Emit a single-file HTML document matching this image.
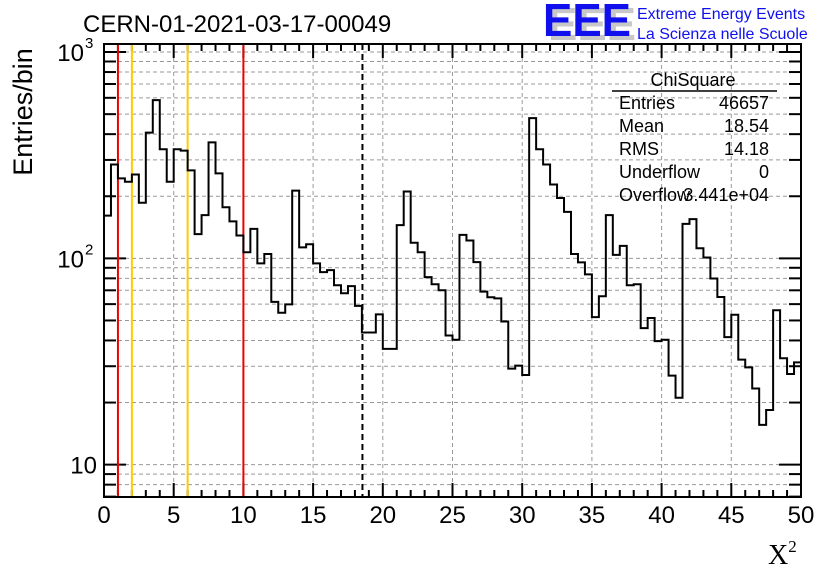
<!DOCTYPE html>
<html><head><meta charset="utf-8"><style>
html,body{margin:0;padding:0;background:#fff;}
svg{display:block;font-family:"Liberation Sans",sans-serif;}
</style></head><body>
<svg id="chart" width="836" height="572" viewBox="0 0 836 572">
<rect width="836" height="572" fill="#fff"/>
<g id="grid"></g>
<g id="ticks"></g>
<g id="vlines"></g>
<path id="hist" fill="none" stroke="#000" stroke-width="2"/>
<rect x="104" y="44" width="697" height="453" fill="none" stroke="#000" stroke-width="2"/>
<text x="83" y="32" font-size="24">CERN-01-2021-03-17-00049</text>
<g>
<text x="548" y="40" font-size="46" font-weight="bold" fill="#c8c8c8" textLength="88" lengthAdjust="spacingAndGlyphs">EEE</text>
<text x="543" y="36" font-size="46" font-weight="bold" fill="#1010ee" textLength="88" lengthAdjust="spacingAndGlyphs">EEE</text>
<text x="637" y="19" font-size="16" fill="#1010ee">Extreme Energy Events</text>
<text x="637" y="39" font-size="16" fill="#1010ee">La Scienza nelle Scuole</text>
</g>
<text transform="translate(32,112) rotate(-90)" font-size="27" text-anchor="middle">Entries/bin</text>
<text x="768" y="564" font-size="28" font-family="Liberation Serif,serif">X<tspan font-size="17" dy="-12">2</tspan></text>
<g font-size="18">
<text x="693" y="86" text-anchor="middle">ChiSquare</text>
<line x1="612" y1="91" x2="777" y2="91" stroke="#000" stroke-width="1.5"/>
<text x="619" y="109">Entries</text><text x="769" y="109" text-anchor="end">46657</text>
<text x="619" y="132">Mean</text><text x="769" y="132" text-anchor="end">18.54</text>
<text x="619" y="155">RMS</text><text x="769" y="155" text-anchor="end">14.18</text>
<text x="619" y="178">Underflow</text><text x="769" y="178" text-anchor="end">0</text>
<text x="619" y="201">Overflow</text><text x="769" y="201" text-anchor="end">3.441e+04</text>
</g>
</svg>
<script>
const counts = [161,285,244,235,255,186,407,585,338,235,338,333,267,131,162,365,258,177,151,129,107,139,94.6,105,61.5,54.5,59.8,213,113,117,94.6,85.7,87.7,74.1,67.7,73.3,58.8,43.7,43.7,53.5,36.4,36.4,145,211,119,107,81.1,74.9,70.0,42.3,40.3,130,122,95.9,69.0,64.8,64.0,49.4,29.2,30.2,27.2,478,338,285,228,196,168,105,95.6,83.6,51.9,65.5,162,104,115,74.1,74.9,45.9,51.4,39.7,40.3,27.0,21.1,147,155,112,101,79.9,65.0,41.5,53.3,32.3,29.6,23.4,15.6,18.4,56.0,32.8,27.5,31.3];
const xTicks = [0,5,10,15,20,25,30,35,40,45,50];
const yDecades = [10,100,1000];
const redLines = [1,10];
const yellowLines = [2,6];
const meanLine = [18.54];
const X0=104,X1=801,Y0=497,Y1=44,XMIN=0,XMAX=50,YMIN=6.97,YMAX=1094;
const NS='http://www.w3.org/2000/svg';
function sx(v){return X0+(v-XMIN)/(XMAX-XMIN)*(X1-X0);}
function sy(v){return Y0-(Math.log10(v)-Math.log10(YMIN))/(Math.log10(YMAX)-Math.log10(YMIN))*(Y0-Y1);}
function mk(tag,attrs,parent){const e=document.createElementNS(NS,tag);for(const k in attrs)e.setAttribute(k,attrs[k]);parent.appendChild(e);return e;}
const grid=document.getElementById('grid'),ticks=document.getElementById('ticks'),vl=document.getElementById('vlines');
for(let v=0;v<=50;v++){
  const x=sx(v),major=v%5===0;
  if(major&&v>0&&v<50){const g=mk('line',{x1:x,x2:x,y1:Y1,y2:Y0,stroke:'#999','stroke-dasharray':'4,3','stroke-width':1},grid);
    
    }
  const L=major?14:7;
  mk('line',{x1:x,x2:x,y1:Y0,y2:Y0-L,stroke:'#000','stroke-width':2},ticks);
  mk('line',{x1:x,x2:x,y1:Y1,y2:Y1+L,stroke:'#000','stroke-width':2},ticks);
}
xTicks.forEach(v=>{const t=mk('text',{x:sx(v),y:523,'font-size':24,'text-anchor':'middle'},ticks);t.textContent=v;
  
  });
for(let d=1;d<=1000;d*=10){for(let m=1;m<10;m++){const v=d*m;if(v<YMIN||v>YMAX)continue;const y=sy(v);
  if(v>YMIN){const g=mk('line',{x1:X0,x2:X1,y1:y,y2:y,stroke:'#999','stroke-dasharray':'4,3','stroke-width':1},grid);
    
    }
  const L=m===1?22:12;
  mk('line',{x1:X0,x2:X0+L,y1:y,y2:y,stroke:'#000','stroke-width':2},ticks);
  mk('line',{x1:X1,x2:X1-L,y1:y,y2:y,stroke:'#000','stroke-width':2},ticks);
}}
yDecades.forEach(v=>{const y=sy(v);let t;
  if(v===10){t=mk('text',{x:97,y:y+9,'font-size':24,'text-anchor':'end'},ticks);t.textContent='10';}
  else{t=mk('text',{x:84,y:y+9,'font-size':24,'text-anchor':'end'},ticks);t.textContent='10';
    const s=mk('text',{x:85,y:y-4,'font-size':15},ticks);s.textContent=String(Math.round(Math.log10(v)));}
  
  });
redLines.forEach(v=>{const l=mk('line',{x1:sx(v),x2:sx(v),y1:Y1,y2:Y0,stroke:'#ee0000','stroke-width':2},vl);
  
  });
yellowLines.forEach(v=>{const l=mk('line',{x1:sx(v),x2:sx(v),y1:Y1,y2:Y0,stroke:'#ffcc00','stroke-width':2},vl);
  
  });
meanLine.forEach(v=>{const l=mk('line',{x1:sx(v),x2:sx(v),y1:Y1,y2:Y0,stroke:'#000','stroke-width':2,'stroke-dasharray':'6,4'},vl);
  
  });
const bw=(XMAX-XMIN)/counts.length;
let d='M'+sx(0)+','+sy(counts[0]);
counts.forEach((c,i)=>{const y=Math.min(Y0,sy(Math.max(c,YMIN)));
  if(i>0)d+=' L'+sx(i*bw)+','+y;
  d+=' L'+sx((i+1)*bw)+','+y;});
document.getElementById('hist').setAttribute('d',d);
</script>
</body></html>
